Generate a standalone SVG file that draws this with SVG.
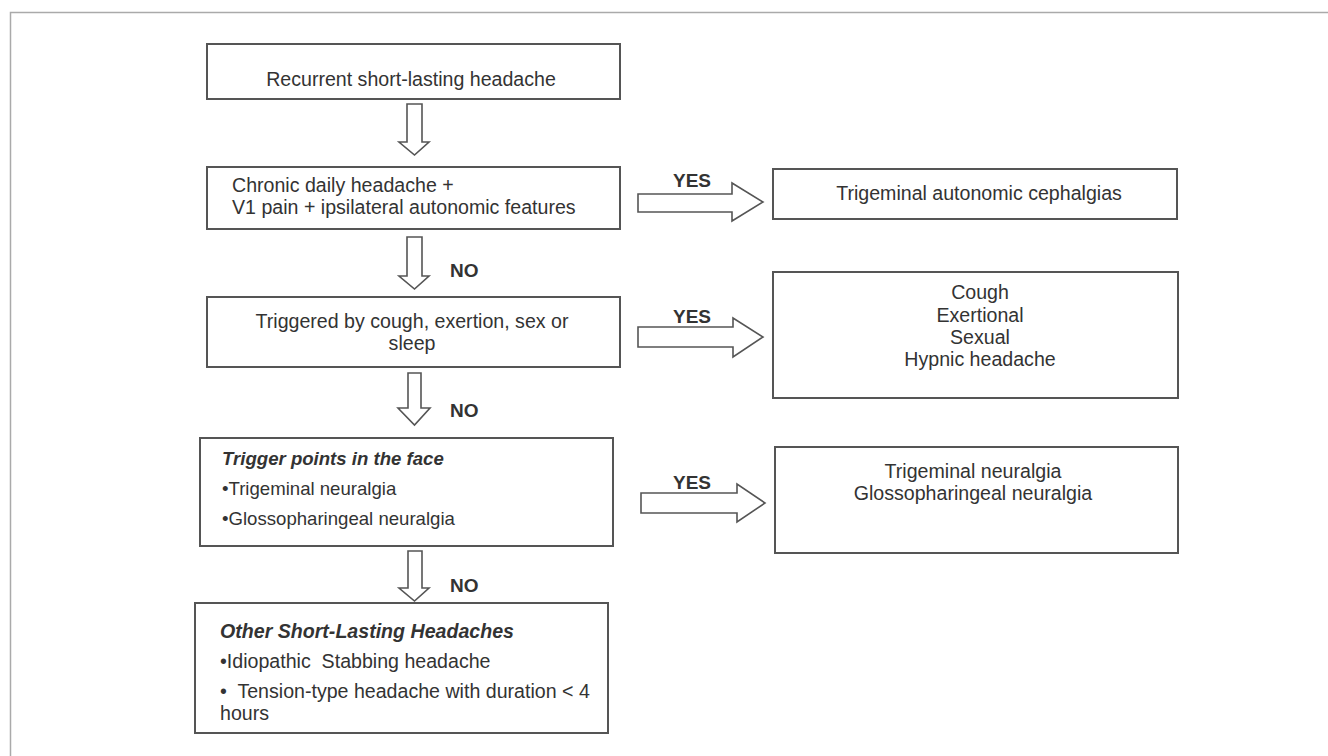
<svg xmlns="http://www.w3.org/2000/svg" width="1328" height="756" viewBox="0 0 1328 756">
<style>
.box{fill:#fff;stroke:#555;stroke-width:2}
.t{font-family:"Liberation Sans",Arial,sans-serif;font-size:19.6px;fill:#333}
.s{font-size:18.6px}
.c{text-anchor:middle}
.bi{font-weight:bold;font-style:italic}
.lbl{font-family:"Liberation Sans",Arial,sans-serif;font-size:19px;font-weight:bold;fill:#333}
.arr{fill:#fff;stroke:#555;stroke-width:1.6;stroke-linejoin:miter}
</style>
<rect x="10.5" y="12.5" width="1330" height="760" fill="#fff" stroke="#aaa" stroke-width="1.5"/>
<g id="n1"><rect class="box" x="207" y="44" width="413" height="55"/><text class="t c" x="411" y="86">Recurrent short-lasting headache</text></g>
<g id="n2"><rect class="box" x="207" y="167" width="413" height="62"/><text class="t" x="232" y="192">Chronic daily headache +</text><text class="t" x="232" y="214">V1 pain + ipsilateral autonomic features</text></g>
<g id="n3"><rect class="box" x="773" y="169" width="404" height="50"/><text class="t c" x="979" y="200">Trigeminal autonomic cephalgias</text></g>
<g id="n4"><rect class="box" x="207" y="297" width="413" height="70"/><text class="t c" x="412" y="328">Triggered by cough, exertion, sex or</text><text class="t c" x="412" y="350">sleep</text></g>
<g id="n5"><rect class="box" x="773" y="272" width="405" height="126"/><text class="t c" x="980" y="299">Cough</text><text class="t c" x="980" y="322">Exertional</text><text class="t c" x="980" y="344">Sexual</text><text class="t c" x="980" y="366">Hypnic headache</text></g>
<g id="n6"><rect class="box" x="200" y="438" width="413" height="108"/><text class="t s bi" x="222" y="465">Trigger points in the face</text><text class="t s" x="222" y="495">•Trigeminal neuralgia</text><text class="t s" x="222" y="525">•Glossopharingeal neuralgia</text></g>
<g id="n7"><rect class="box" x="775" y="447" width="403" height="106"/><text class="t c" x="973" y="478">Trigeminal neuralgia</text><text class="t c" x="973" y="500">Glossopharingeal neuralgia</text></g>
<g id="n8"><rect class="box" x="195" y="603" width="413" height="130"/><text class="t bi" x="220" y="638">Other Short-Lasting Headaches</text><text class="t" x="220" y="668" xml:space="preserve">•Idiopathic  Stabbing headache</text><text class="t" x="220" y="698" xml:space="preserve">•  Tension-type headache with duration &lt; 4</text><text class="t" x="220" y="720">hours</text></g>
<g id="connectors">
<path class="arr" d="M407,104 H422 V142 H429 L414.5,155 L399,142 H407 Z"/>
<path class="arr" d="M407,237 H422 V276 H429 L414.5,289 L399,276 H407 Z"/>
<path class="arr" d="M408,373 H421 V408 H430 L414.5,425 L398,408 H408 Z"/>
<path class="arr" d="M408,551 H422 V588 H429 L414.5,601 L399,588 H408 Z"/>
<path class="arr" d="M638,194 H732 V183 L763,202 L732,221 V212 H638 Z"/>
<path class="arr" d="M638,327 H733 V318 L763,337 L733,357 V347 H638 Z"/>
<path class="arr" d="M641,493 H737 V484 L765,503 L737,522 V513 H641 Z"/>
<text class="lbl" x="450" y="277">NO</text>
<text class="lbl" x="450" y="417">NO</text>
<text class="lbl" x="450" y="592">NO</text>
<text class="lbl" x="673" y="187">YES</text>
<text class="lbl" x="673" y="323">YES</text>
<text class="lbl" x="673" y="489">YES</text>
</g>
</svg>
